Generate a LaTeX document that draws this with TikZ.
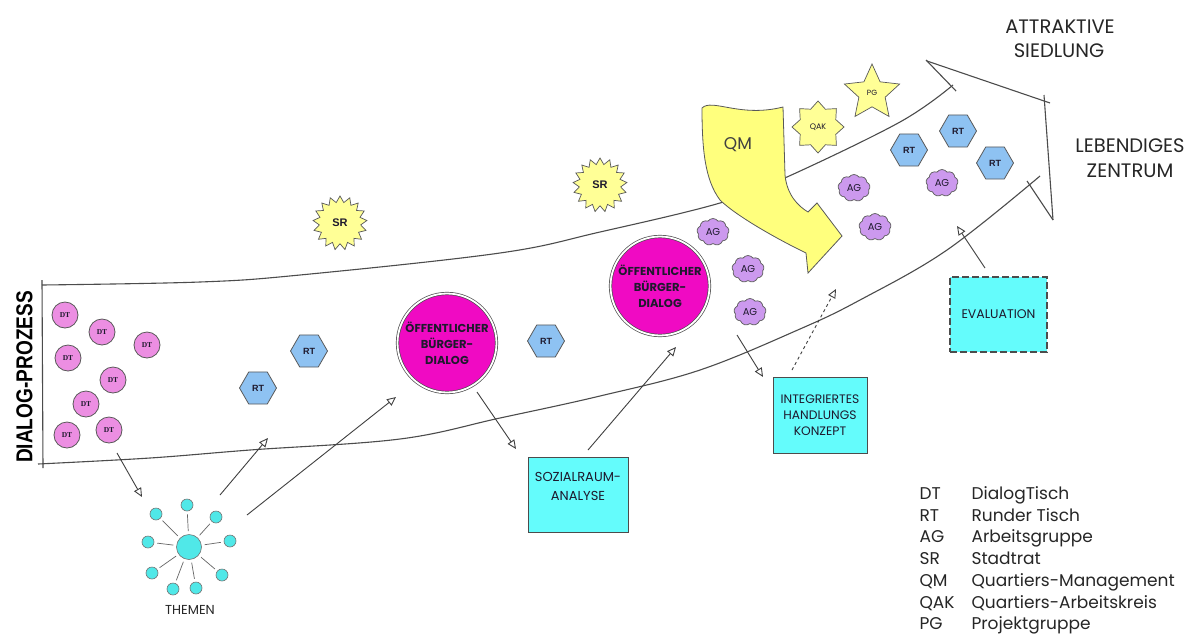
\documentclass[tikz,border=0pt]{standalone}
\usepackage{fontspec}
\setmainfont{Poppins}
\newfontfamily\lib{Liberation Sans}
\newfontfamily\libs{Liberation Serif}
\usetikzlibrary{shapes.geometric,shapes.symbols,arrows.meta}
\definecolor{dtpink}{RGB}{236,142,226}
\definecolor{rtblue}{RGB}{142,194,242}
\definecolor{aglav}{RGB}{204,153,238}
\definecolor{ylw}{RGB}{255,255,150}
\definecolor{qmylw}{RGB}{255,255,125}
\definecolor{bdmag}{RGB}{240,10,195}
\definecolor{cyanbox}{RGB}{100,252,252}
\definecolor{thcyan}{RGB}{80,232,232}
\definecolor{ink}{RGB}{30,25,45}
\begin{document}
\begin{tikzpicture}[x=1pt,y=-1pt,
  band/.style={draw=black!70, line width=1.1pt},
  arr/.style={draw=black!75, line width=0.9pt, -{Triangle[open,length=9pt,width=8pt]}},
  dtnode/.style={circle, fill=dtpink, draw=black!65, line width=0.8pt, minimum size=26pt, inner sep=0pt, text=ink, font=\libs\bfseries\fontsize{7.5}{8}\selectfont},
  rtnode/.style={regular polygon, regular polygon sides=6, fill=rtblue, draw=black!65, line width=0.8pt, minimum size=37pt, inner sep=0pt, text=ink, font=\lib\bfseries\fontsize{9}{10}\selectfont},
  agnode/.style={cloud, cloud puffs=9, cloud puff arc=110, aspect=1.2, fill=aglav, draw=black!65, line width=0.7pt, minimum width=32pt, minimum height=27pt, inner sep=0pt, text=ink, font=\fontsize{10}{11}\selectfont},
  srnode/.style={star, star points=17, star point ratio=1.3, fill=ylw, draw=black!65, line width=0.7pt, minimum size=54pt, inner sep=0pt, text=ink, font=\lib\bfseries\fontsize{11}{12}\selectfont},
  qaknode/.style={star, star points=8, star point ratio=1.35, fill=ylw, draw=black!65, line width=0.7pt, minimum size=52pt, inner sep=0pt, text=ink, font=\fontsize{8}{9}\selectfont},
  pgnode/.style={star, star points=5, star point ratio=2.1, fill=ylw, draw=black!65, line width=0.7pt, minimum size=58pt, inner sep=0pt, text=ink, font=\fontsize{7.5}{8}\selectfont},
  bdnode/.style={circle, fill=bdmag, draw=black!70, line width=0.7pt, double=white, double distance=1.8pt, minimum size=99pt, inner sep=0pt, align=center, text=ink, font=\bfseries\fontsize{11.5}{16}\selectfont},
  boxnode/.style={rectangle, fill=cyanbox, draw=black!70, line width=1pt, inner sep=0pt, align=center, text=ink, font=\fontsize{13}{19}\selectfont},
  thsmall/.style={circle, fill=thcyan, draw=black!55, line width=0.6pt, minimum size=12pt, inner sep=0pt},
  thline/.style={draw=black!60, line width=0.7pt, shorten <=3pt, shorten >=3pt},
  legab/.style={anchor=base west, text=black!85, font=\fontsize{17}{18}\selectfont},
  bigtxt/.style={anchor=base, text=black!85, font=\fontsize{19.5}{21}\selectfont}
]
\useasboundingbox (0,0) rectangle (1198,635);
\fill[white] (0,0) rectangle (1198,635);

% ---- band (big arrow) ----
\draw[band] plot[smooth, tension=0.6] coordinates {(42,285) (200,282) (300,275) (500,253) (600,232) (720,203) (787,177) (900,122) (953,85)};
\draw[band] plot[smooth, tension=0.6] coordinates {(38,464) (150,458) (250,450) (400,439) (500,418) (600,396) (700,370) (800,329) (860,300) (947,250) (1040,176)};
\draw[band] (42,280) -- (43,468);
\draw[band] (926,60) -- (956,91);
\draw[band] (927,61) -- (1050,103);
\draw[band] (1044,95) -- (1053,220);
\draw[band] (1027,181) -- (1053,220);

% ---- QM arrow ----
\path[fill=qmylw, draw=black!65, line width=0.8pt]
  (702,108) .. controls (712,98) and (740,118) .. (783,107)
  -- (785,175) .. controls (787,195) and (798,206) .. (808,212)
  -- (817,203) -- (842,236) -- (808,273) -- (806,253)
  .. controls (775,238) and (735,215) .. (720,200)
  .. controls (705,180) and (702,150) .. (702,108) -- cycle;
\node[text=black!75, font=\fontsize{17}{18}\selectfont] (qm) at (738,145) {QM};

% ---- DT ----
\node[dtnode] (dt1) at (65,315) {DT};
\node[dtnode] (dt2) at (102,332) {DT};
\node[dtnode] (dt3) at (147,345) {DT};
\node[dtnode] (dt4) at (68,358) {DT};
\node[dtnode] (dt5) at (113,380) {DT};
\node[dtnode] (dt6) at (86,404) {DT};
\node[dtnode] (dt7) at (67,435) {DT};
\node[dtnode] (dt8) at (109,430) {DT};

% ---- RT ----
\node[rtnode] (rt1) at (258,388) {RT};
\node[rtnode] (rt2) at (309,351) {RT};
\node[rtnode] (rt3) at (546,341) {RT};
\node[rtnode] (rt4) at (909,150) {RT};
\node[rtnode] (rt5) at (958,131) {RT};
\node[rtnode] (rt6) at (995,163) {RT};

% ---- AG ----
\node[agnode] (ag1) at (713,232) {AG};
\node[agnode] (ag2) at (748,269) {AG};
\node[agnode] (ag3) at (750,312) {AG};
\node[agnode] (ag4) at (854,188) {AG};
\node[agnode] (ag5) at (875,227) {AG};
\node[agnode] (ag6) at (942,183) {AG};

% ---- stars ----
\node[srnode] (sr1) at (340,223) {SR};
\node[srnode] (sr2) at (600,185) {SR};
\node[qaknode] (qak) at (818,127) {QAK};
\node[pgnode] (pg) at (872,93) {PG};

% ---- Buergerdialog ----
\node[bdnode] (bd1) at (447,343) {ÖFFENTLICHER\\BÜRGER-\\DIALOG};
\node[bdnode] (bd2) at (660,286) {ÖFFENTLICHER\\BÜRGER-\\DIALOG};

% ---- boxes ----
\node[boxnode, minimum width=100pt, minimum height=75pt] (soz) at (578,494.5) {SOZIALRAUM-\\ANALYSE\\[-3pt]};
\node[boxnode, minimum width=94pt, minimum height=76pt, font=\fontsize{12.3}{16}\selectfont] (ihk) at (820,415) {INTEGRIERTES\\HANDLUNGS\\KONZEPT};
\node[boxnode, minimum width=97pt, minimum height=75pt, line width=1.6pt, dash pattern=on 7pt off 3pt, font=\fontsize{12.5}{16}\selectfont] (eva) at (998.5,314.5) {EVALUATION};

% ---- THEMEN ----
\node[circle, fill=thcyan, draw=black!55, line width=0.6pt, minimum size=25pt, inner sep=0pt] (th) at (189,547) {};
\node[thsmall] (t1) at (156,514) {};
\node[thsmall] (t2) at (187,505) {};
\node[thsmall] (t3) at (216,517) {};
\node[thsmall] (t4) at (148,542) {};
\node[thsmall] (t5) at (230,541) {};
\node[thsmall] (t6) at (152,573) {};
\node[thsmall] (t7) at (222,575) {};
\node[thsmall] (t8) at (173,589) {};
\node[thsmall] (t9) at (196,588) {};
\foreach \t in {t1,t2,t3,t4,t5,t6,t7,t8,t9} \draw[thline] (th) -- (\t);
\node[text=black!85, font=\fontsize{13}{14}\selectfont] (thl) at (190,610) {THEMEN};

% ---- arrows ----
\coordinate (a1s) at (117,453); \coordinate (a1e) at (142,497);
\coordinate (a2s) at (220,495); \coordinate (a2e) at (268,438);
\coordinate (a3s) at (247,515); \coordinate (a3e) at (396,397);
\coordinate (a4s) at (477,392); \coordinate (a4e) at (516,449);
\coordinate (a5s) at (588,450); \coordinate (a5e) at (676,347);
\coordinate (a6s) at (737,335); \coordinate (a6e) at (763,377);
\coordinate (a7s) at (792,370); \coordinate (a7e) at (836,289);
\coordinate (a8s) at (985,268); \coordinate (a8e) at (957,226);
\draw[arr] (a1s) -- (a1e);
\draw[arr] (a2s) -- (a2e);
\draw[arr] (a3s) -- (a3e);
\draw[arr] (a4s) -- (a4e);
\draw[arr] (a5s) -- (a5e);
\draw[arr] (a6s) -- (a6e);
\draw[arr, dashed] (a7s) -- (a7e);
\draw[arr] (a8s) -- (a8e);

% ---- labels ----
\node[rotate=90, text=black, font=\lib\bfseries\fontsize{23}{24}\selectfont] (dp) at (24.5,377) {\scalebox{0.83}[1]{DIALOG-PROZESS}};
\node[bigtxt] (at1) at (1060,33) {ATTRAKTIVE};
\node[bigtxt] (at2) at (1059,57) {SIEDLUNG};
\node[bigtxt] (lz1) at (1130,152) {LEBENDIGES};
\node[bigtxt] (lz2) at (1130,177) {ZENTRUM};

% ---- legend ----
\node[legab] (l1a) at (916,499.5) {DT};  \node[legab] (l1b) at (968,499.5) {DialogTisch};
\node[legab] (l2a) at (916,521) {RT};    \node[legab] (l2b) at (968,521) {Runder Tisch};
\node[legab] (l3a) at (916,542.5) {AG};  \node[legab] (l3b) at (968,542.5) {Arbeitsgruppe};
\node[legab] (l4a) at (916,564.5) {SR};  \node[legab] (l4b) at (968,564.5) {Stadtrat};
\node[legab] (l5a) at (916,586) {QM};    \node[legab] (l5b) at (968,586) {Quartiers-Management};
\node[legab] (l6a) at (916,608) {QAK};   \node[legab] (l6b) at (968,608) {Quartiers-Arbeitskreis};
\node[legab] (l7a) at (916,629.5) {PG};  \node[legab] (l7b) at (968,629.5) {Projektgruppe};
\end{tikzpicture}
\end{document}
